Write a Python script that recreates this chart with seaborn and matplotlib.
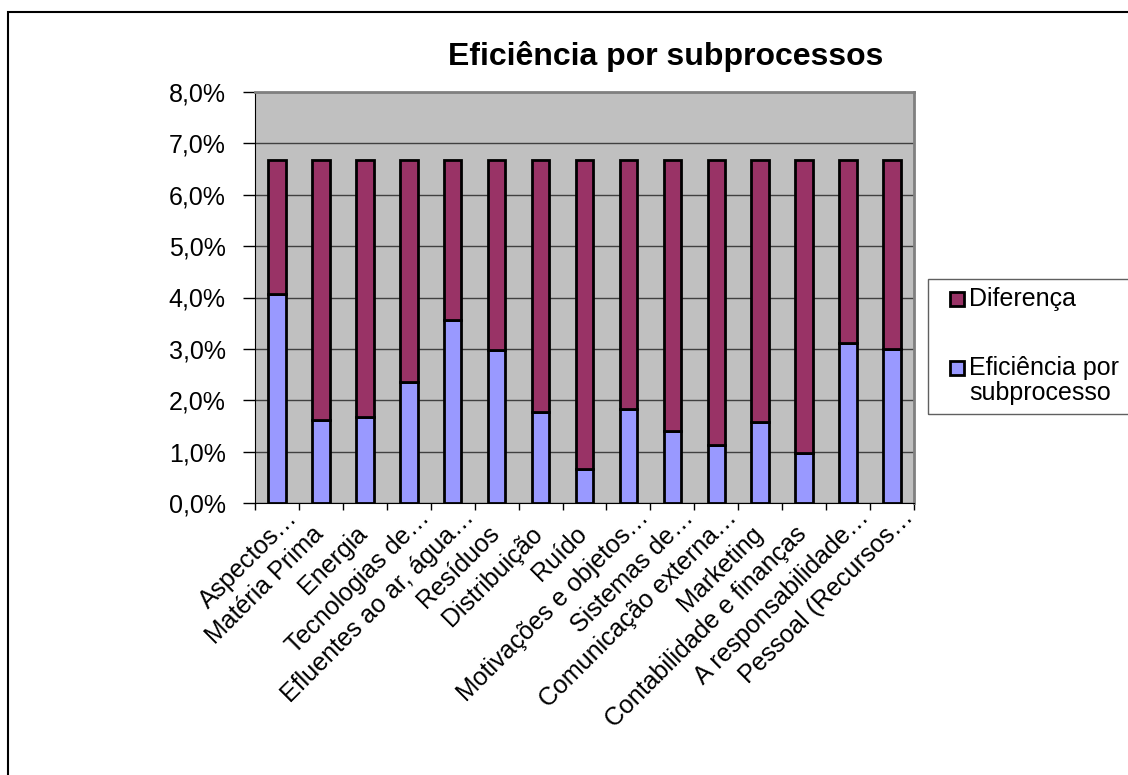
import matplotlib
matplotlib.use("Agg")
import matplotlib.pyplot as plt
import matplotlib.transforms as mtransforms
import seaborn as sns
import pandas as pd
from matplotlib.patches import Rectangle

categorias = ["Aspectos…", "Matéria Prima", "Energia", "Tecnologias de…",
              "Efluentes ao ar, água…", "Resíduos", "Distribuição", "Ruído",
              "Motivações e objetos…", "Sistemas de…", "Comunicação externa…",
              "Marketing", "Contabilidade e finanças", "A responsabilidade…",
              "Pessoal (Recursos…"]
eficiencia = [4.06, 1.61, 1.67, 2.36, 3.57, 2.98, 1.78, 0.67, 1.82, 1.40,
              1.12, 1.58, 0.97, 3.11, 3.00]
diferenca = [2.61, 5.06, 5.00, 4.31, 3.10, 3.69, 4.89, 6.00, 4.85, 5.27,
             5.55, 5.09, 5.70, 3.56, 3.67]
yticks = [0, 1, 2, 3, 4, 5, 6, 7, 8]
ytick_labels = ["0,0%", "1,0%", "2,0%", "3,0%", "4,0%", "5,0%", "6,0%", "7,0%", "8,0%"]
serie_nomes = ["Diferença", "Eficiência por\nsubprocesso"]

COR_EF = "#9999FF"
COR_DIF = "#993366"

sns.set_style("white")
plt.rcParams["font.family"] = ["Liberation Sans", "DejaVu Sans"]
plt.rcParams["text.color"] = "black"
plt.rcParams["xtick.color"] = "black"
plt.rcParams["ytick.color"] = "black"

df = pd.DataFrame({"cat": categorias, "ef": eficiencia, "dif": diferenca})

W, H = 1128, 775
fig = plt.figure(figsize=(W/100, H/100), dpi=100)
ax = fig.add_axes([255/W, 1-503/H, 659/W, 411/H])
ax.set_facecolor("#C0C0C0")

sns.barplot(data=df, x="cat", y="ef", order=categorias, color=COR_EF,
            saturation=1, width=0.4, edgecolor="black", linewidth=2, ax=ax,
            zorder=3)
sns.barplot(data=df, x="cat", y="dif", order=categorias, color=COR_DIF,
            saturation=1, width=0.4, edgecolor="black", linewidth=2, ax=ax,
            bottom=df["ef"].values, zorder=3)

ax.set_ylim(0, 8)
ax.set_xlim(-0.5, len(categorias) - 0.5)
ax.set_yticks(yticks)
ax.set_yticklabels(ytick_labels, fontsize=18)
ax.grid(axis="y", color="#404040", linewidth=1, zorder=1)
ax.grid(axis="x", visible=False)
ax.set_axisbelow(True)
ax.set_xlabel("")
ax.set_ylabel("")

ax.set_xticks([i - 0.5 for i in range(len(categorias) + 1)], minor=True)
ax.tick_params(axis="x", which="minor", length=5, width=1, color="black",
               direction="out", bottom=True)
ax.set_xticks(range(len(categorias)))
ax.set_xticklabels(categorias, rotation=45, ha="right", va="baseline",
                   rotation_mode="anchor", fontsize=18)
ax.tick_params(axis="x", which="major", length=0, pad=23)
ax.tick_params(axis="y", length=9, color="black", width=1, pad=12,
               direction="out", left=True)

# truncated (ellipsis) labels sit further along the text direction
for lab in ax.get_xticklabels():
    if lab.get_text().endswith("…"):
        off = mtransforms.ScaledTranslation(0.22, 0.16, fig.dpi_scale_trans)
    else:
        off = mtransforms.ScaledTranslation(0.035, 0.0, fig.dpi_scale_trans)
    lab.set_transform(lab.get_transform() + off)

for side in ["top", "right"]:
    ax.spines[side].set_color("#808080")
    ax.spines[side].set_linewidth(2)
ax.spines["left"].set_color("black")
ax.spines["bottom"].set_color("black")
for side in ax.spines:
    ax.spines[side].set_visible(True)

fig.text(666/W, 1-57/H, "Eficiência por subprocessos", ha="center",
         va="center", fontsize=23, fontweight="bold")

# legend box (right edge cut off by the image border, as in the source)
fig.patches.append(Rectangle((928/W, 1-414/H), 1.0, (414-279)/H,
                             transform=fig.transFigure, fill=False,
                             edgecolor="#606060", linewidth=1))
for cor, nome, yc in [(COR_DIF, serie_nomes[0], 299), (COR_EF, serie_nomes[1], 368)]:
    fig.patches.append(Rectangle((950/W, 1-(yc+7)/H), 14/W, 14/H,
                                 transform=fig.transFigure, facecolor=cor,
                                 edgecolor="black", linewidth=2))
    fig.text(969/W, 1-(yc-12)/H, nome, ha="left", va="top", fontsize=18,
             linespacing=1.05)

fig.patches.append(Rectangle((8/W, -0.1), 1.2, 1-12/H + 0.1,
                             transform=fig.transFigure, fill=False,
                             edgecolor="black", linewidth=1.5))

fig.savefig("out.png", dpi=100, facecolor="white")
